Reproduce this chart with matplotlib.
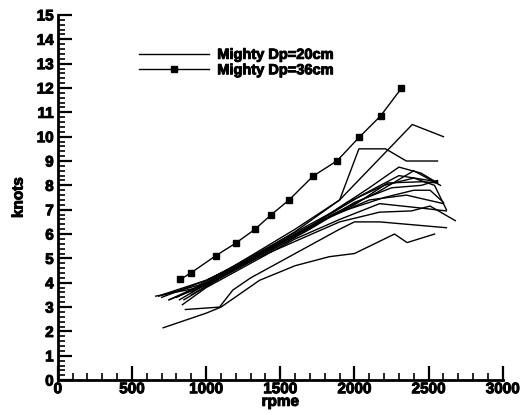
import numpy as np
import matplotlib.pyplot as plt
import matplotlib.patheffects as pe
from matplotlib.ticker import MultipleLocator

plt.rcParams['font.family'] = ['Liberation Sans', 'DejaVu Sans']
plt.rcParams['font.weight'] = 'bold'

# Mighty Dp=36cm (square markers)
rpm_36 = [827, 901, 1065, 1198, 1330, 1440, 1559, 1721, 1883, 2031, 2176, 2317]
knots_36 = [4.14, 4.42, 5.11, 5.62, 6.2, 6.8, 7.4, 8.38, 9.01, 9.97, 10.85, 11.99]

# Mighty Dp=20cm runs (thin lines)
runs_20 = [
    ([700, 1000, 1300, 1600, 1900, 2390, 2600],
     [3.5, 4.1, 5.0, 6.1, 7.4, 10.5, 10.0]),
    ([750, 1000, 1300, 1600, 1900, 2030, 2210, 2350, 2560],
     [3.3, 4.0, 5.1, 6.2, 7.4, 9.5, 9.5, 9.0, 9.0]),
    ([680, 950, 1250, 1550, 1850, 2100, 2300, 2450, 2560],
     [3.45, 3.9, 4.9, 5.9, 6.9, 7.9, 8.75, 8.5, 8.1]),
    ([800, 1100, 1400, 1700, 1950, 2200, 2400, 2540, 2620],
     [3.4, 4.3, 5.3, 6.3, 7.3, 8.0, 8.3, 8.0, 7.0]),
    ([850, 1100, 1400, 1700, 2000, 2250, 2450, 2560],
     [3.3, 4.2, 5.2, 6.2, 7.3, 7.9, 8.0, 8.2]),
    ([900, 1150, 1450, 1750, 2050, 2300, 2560],
     [3.6, 4.5, 5.5, 6.5, 7.6, 8.4, 8.15]),
    ([700, 1000, 1300, 1600, 1900, 2200, 2400, 2510, 2600],
     [3.4, 4.1, 5.0, 6.0, 6.9, 7.5, 7.8, 7.8, 7.3]),
    ([840, 1000, 1300, 1600, 1900, 2170, 2400, 2620],
     [3.1, 3.8, 4.8, 5.8, 6.6, 7.25, 7.1, 6.95]),
    ([750, 1000, 1300, 1600, 1900, 2170, 2385, 2510, 2680],
     [3.3, 3.9, 4.9, 5.7, 6.5, 6.9, 6.95, 7.15, 6.55]),
    ([860, 1090, 1180, 1300, 1600, 1900, 2000, 2170, 2620],
     [2.9, 3.0, 3.7, 4.2, 5.2, 6.2, 6.5, 6.5, 6.26]),
    ([710, 1000, 1100, 1360, 1600, 1830, 2000, 2270, 2355, 2540],
     [2.15, 2.75, 3.0, 4.1, 4.7, 5.07, 5.2, 6.0, 5.65, 6.0]),
    ([900, 1200, 1500, 1800, 2100, 2350, 2600],
     [3.5, 4.6, 5.6, 6.6, 7.4, 7.6, 7.25]),
    ([820, 1100, 1400, 1700, 2000, 2225, 2460, 2560],
     [3.3, 4.3, 5.3, 6.3, 7.2, 8.1, 8.15, 8.1]),
    ([660, 950, 1250, 1550, 1850, 2150, 2400, 2580],
     [3.45, 3.8, 4.8, 5.7, 6.8, 7.7, 8.6, 8.0]),
]

heavy = [pe.withStroke(linewidth=0.7, foreground='k')]

fig = plt.figure(figsize=(5.21, 4.15), dpi=100)
ax = fig.add_axes([0.111, 0.084, 0.854, 0.88])

for i, (r, k) in enumerate(runs_20):
    ax.plot(r, k, c='k', linewidth=1.0,
            label='Mighty Dp=20cm' if i == 0 else None)
ax.plot(rpm_36, knots_36, c='k', linewidth=1.0, marker='s', markersize=4,
        label='Mighty Dp=36cm')

ax.set_xlim(0, 3000)
ax.set_ylim(0, 15)
ax.xaxis.set_major_locator(MultipleLocator(500))
ax.xaxis.set_minor_locator(MultipleLocator(100))
ax.yaxis.set_major_locator(MultipleLocator(1))
ax.yaxis.set_minor_locator(MultipleLocator(0.2))
ax.tick_params(which='major', direction='in', length=10, width=1.6,
               labelsize=11)
ax.tick_params(axis='x', which='major', pad=1.5)
ax.tick_params(axis='y', which='major', pad=3)
ax.tick_params(which='minor', direction='in', length=5, width=1.2)
ax.spines['top'].set_visible(False)
ax.spines['right'].set_visible(False)
ax.spines['left'].set_linewidth(2)
ax.spines['bottom'].set_linewidth(2)
for lab in ax.get_xticklabels() + ax.get_yticklabels():
    lab.set_fontweight('bold')
    lab.set_path_effects(heavy)

xl = ax.set_xlabel('rpme', fontsize=11, fontweight='bold', labelpad=-1)
yl = ax.set_ylabel('knots', fontsize=11, fontweight='bold', labelpad=8)
xl.set_path_effects(heavy)
yl.set_path_effects(heavy)

leg = ax.legend(loc='upper left', bbox_to_anchor=(0.165, 0.93), frameon=False,
                handlelength=4.8, handletextpad=0.6, labelspacing=0.1,
                borderpad=0, prop={'weight': 'bold', 'size': 10.5})
for t in leg.get_texts():
    t.set_path_effects(heavy)

plt.savefig('out.png')
